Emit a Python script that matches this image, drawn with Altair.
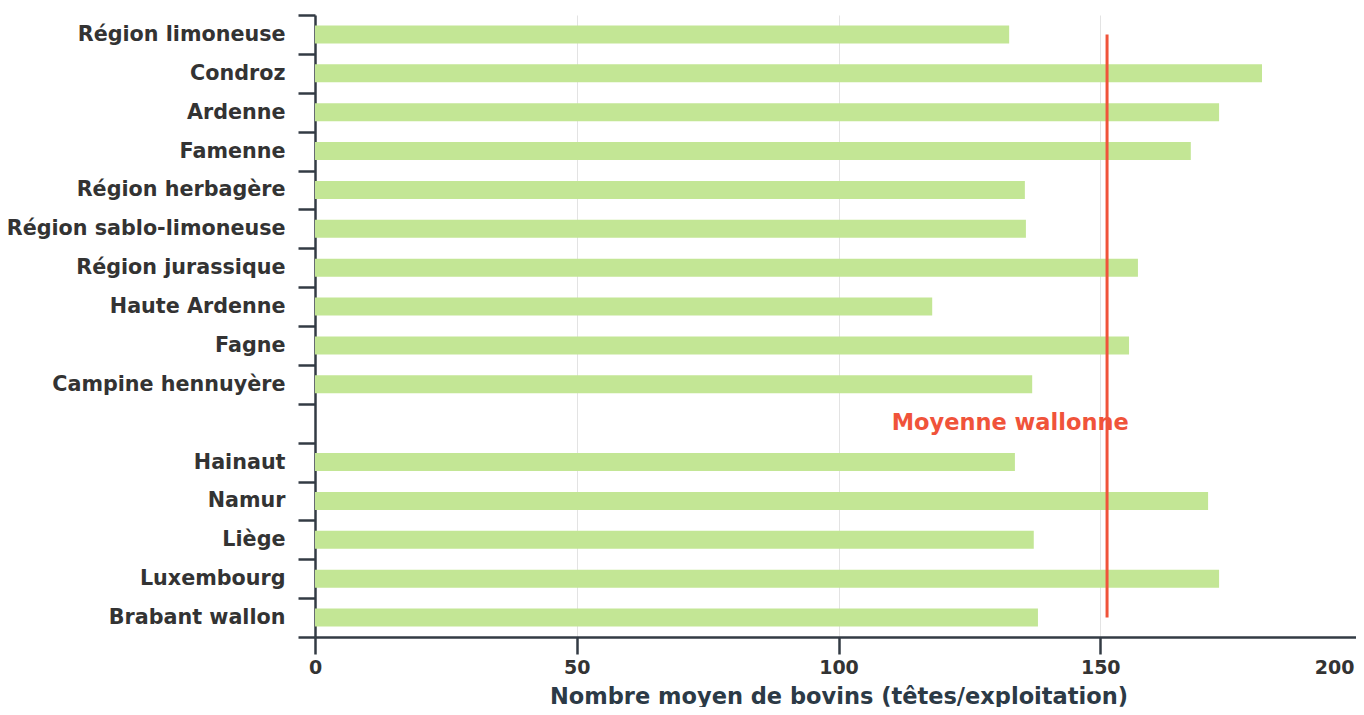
import altair as alt
import pandas as pd

categories = ["Région limoneuse", "Condroz", "Ardenne", "Famenne", "Région herbagère",
              "Région sablo-limoneuse", "Région jurassique", "Haute Ardenne", "Fagne",
              "Campine hennuyère", " ", "Hainaut", "Namur", "Liège", "Luxembourg",
              "Brabant wallon"]
bar_regions = ["Région limoneuse", "Condroz", "Ardenne", "Famenne", "Région herbagère",
               "Région sablo-limoneuse", "Région jurassique", "Haute Ardenne", "Fagne",
               "Campine hennuyère", "Hainaut", "Namur", "Liège", "Luxembourg",
               "Brabant wallon"]
bar_values = [132.6, 180.9, 172.7, 167.3, 135.6, 135.8, 157.2, 117.9, 155.5, 137.0,
              133.7, 170.6, 137.3, 172.7, 138.1]
mean_value = 151.3
mean_label = "Moyenne wallonne"
mean_label_x = 132.8
x_ticks = [0, 50, 100, 150, 200]

bars_df = pd.DataFrame({"region": bar_regions, "value": bar_values})
rule_df = pd.DataFrame({"x": [mean_value], "y": [categories[0]], "y2": [categories[-1]]})
text_df = pd.DataFrame({"x": [mean_label_x], "y": [" "], "label": [mean_label]})

FONT = "DejaVu Sans"
AXIS_DARK = "#333b44"

y_scale = alt.Scale(domain=categories, paddingInner=0.0, paddingOuter=0.0)
x_scale = alt.Scale(domain=[0, 200], nice=False)

last_tick_test = "datum.value == 200"

bars = alt.Chart(bars_df).mark_bar(color="#c3e695", size=18).encode(
    x=alt.X("value:Q", scale=x_scale,
            axis=alt.Axis(values=x_ticks, title="Nombre moyen de bovins (têtes/exploitation)",
                          grid=True, gridColor="#e3e3e3", gridWidth=1,
                          domainColor=AXIS_DARK, domainWidth=2.5,
                          tickColor=AXIS_DARK, tickWidth=2.5, tickSize=17,
                          labelFont=FONT, labelFontSize=19, labelFontWeight="bold",
                          labelColor="#333333", labelPadding=4,
                          labelAlign={"condition": {"test": last_tick_test, "value": "right"},
                                      "value": "center"},
                          labelOffset={"condition": {"test": last_tick_test, "value": -8},
                                       "value": 0},
                          titleFont=FONT, titleFontSize=22.5, titleFontWeight="bold",
                          titleColor="#2c3a46", titlePadding=8)),
    y=alt.Y("region:N", scale=y_scale, sort=categories,
            axis=alt.Axis(title=None, tickBand="extent", domainColor=AXIS_DARK,
                          domainWidth=2.5, tickColor=AXIS_DARK, tickWidth=2.5,
                          tickSize=17, labelFont=FONT, labelFontSize=20.7,
                          labelFontWeight="bold", labelColor="#333333",
                          labelPadding=13, labelLimit=0, grid=False)),
)

rule = alt.Chart(rule_df).mark_rule(color="#f0533a", strokeWidth=3).encode(
    x=alt.X("x:Q", scale=x_scale),
    y=alt.Y("y:N", scale=y_scale, sort=categories),
    y2="y2:N",
)

text = alt.Chart(text_df).mark_text(
    color="#f0533a", font=FONT, fontSize=22.5, fontWeight="bold", align="center",
    baseline="middle"
).encode(
    x=alt.X("x:Q", scale=x_scale),
    y=alt.Y("y:N", scale=y_scale, sort=categories),
    text="label:N",
)

chart = alt.layer(bars, rule, text).properties(
    width=1047, height=622,
    autosize=alt.AutoSizeParams(type="none"),
    padding={"left": 307, "top": 7, "right": -6, "bottom": 70},
).configure_view(stroke=None)

chart.save("out.html", embed_options={"renderer": "svg", "actions": False})
